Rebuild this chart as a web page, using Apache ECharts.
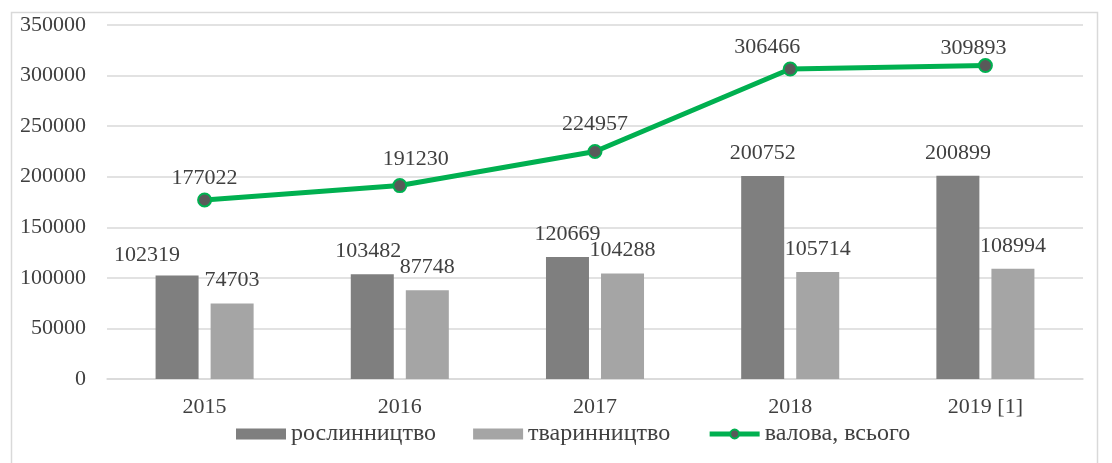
<!DOCTYPE html>
<html>
<head>
<meta charset="utf-8">
<script src="https://cdn.jsdelivr.net/npm/echarts@6/dist/echarts.min.js"></script>
<style>
  html, body { margin: 0; padding: 0; background: #fff; }
  #chart { width: 1112px; height: 463px; }
</style>
</head>
<body>
<div id="chart"></div>
<script>
const years = ['2015', '2016', '2017', '2018', '2019 [1]'];
const cropValues = [102319, 103482, 120669, 200752, 200899];
const livestockValues = [74703, 87748, 104288, 105714, 108994];
const totalValues = [177022, 191230, 224957, 306466, 309893];
const seriesNames = ['рослинництво', 'тваринництво', 'валова, всього'];

// hand-moved labels in the original (Excel), px
const cropLabelShift = [[-30, 3], [-4, 0], [0, 0], [0, 0], [0, 0]];
const totalLabelShift = [[0, 2], [16, -3], [0, -4], [-23, 2], [-12, 6]];

const font = 'Liberation Serif, Times New Roman, serif';
const textColor = '#404040';

const chart = echarts.init(document.getElementById('chart'));

chart.setOption({
  animation: false,
  textStyle: { fontFamily: font },
  graphic: [{
    type: 'rect',
    shape: { x: 11.5, y: 12.5, width: 1086, height: 470 },
    style: { fill: 'none', stroke: '#d9d9d9', lineWidth: 1.5 },
    silent: true
  }],
  grid: { left: 107, right: 29, top: 25, bottom: 84 },
  legend: {
    bottom: 12,
    left: 231,
    itemWidth: 50,
    itemHeight: 11,
    itemGap: 37,
    textStyle: { fontFamily: font, fontSize: 24, color: textColor },
    data: [
      { name: seriesNames[0], icon: 'rect' },
      { name: seriesNames[1], icon: 'rect' },
      {
        name: seriesNames[2],
        lineStyle: { width: 5 },
        itemStyle: { borderWidth: 2 }
      }
    ]
  },
  xAxis: {
    type: 'category',
    data: years,
    axisLine: { lineStyle: { color: '#d9d9d9', width: 1.5 } },
    axisTick: { show: false },
    axisLabel: { fontFamily: font, fontSize: 22, color: textColor, margin: 17 }
  },
  yAxis: {
    type: 'value',
    min: 0,
    max: 350000,
    interval: 50000,
    axisLine: { show: false },
    axisTick: { show: false },
    splitLine: { lineStyle: { color: '#d9d9d9', width: 1.5 } },
    axisLabel: {
      fontFamily: font, fontSize: 22, color: textColor, margin: 21,
      formatter: v => String(v)
    }
  },
  series: [
    {
      name: seriesNames[0],
      type: 'bar',
      data: cropValues.map((v, i) => ({
        value: v,
        label: { offset: cropLabelShift[i] }
      })),
      barWidth: 43,
      barGap: '28%',
      itemStyle: { color: '#7f7f7f' },
      label: {
        show: true, position: 'top', distance: 12,
        fontFamily: font, fontSize: 22, color: textColor
      }
    },
    {
      name: seriesNames[1],
      type: 'bar',
      data: livestockValues,
      barWidth: 43,
      itemStyle: { color: '#a5a5a5' },
      label: {
        show: true, position: 'top', distance: 12,
        fontFamily: font, fontSize: 22, color: textColor
      }
    },
    {
      name: seriesNames[2],
      type: 'line',
      data: totalValues.map((v, i) => ({
        value: v,
        label: { offset: totalLabelShift[i] }
      })),
      symbol: 'circle',
      symbolSize: 13,
      z: 5,
      lineStyle: { color: '#00b050', width: 5 },
      itemStyle: { color: '#595959', borderColor: '#00b050', borderWidth: 2 },
      label: {
        show: true, position: 'top', distance: 5,
        fontFamily: font, fontSize: 22, color: textColor
      }
    }
  ]
});
</script>
</body>
</html>
